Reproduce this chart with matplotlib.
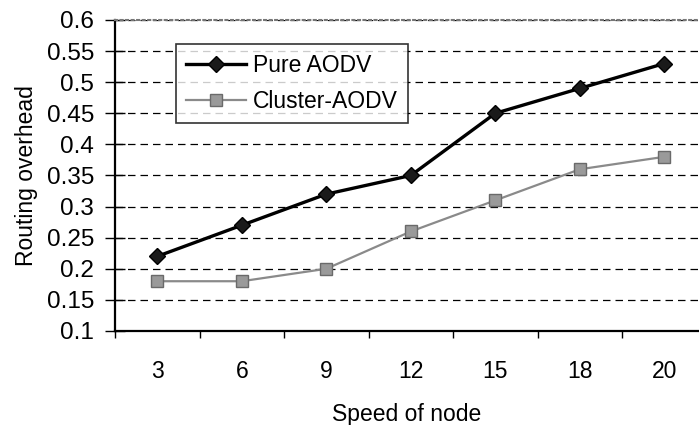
import matplotlib.pyplot as plt

plt.rcParams['font.family'] = ['Liberation Sans', 'DejaVu Sans']

# data
speeds = ['3', '6', '9', '12', '15', '18', '20']
pure_aodv = [0.22, 0.27, 0.32, 0.35, 0.45, 0.49, 0.53]
cluster_aodv = [0.18, 0.18, 0.20, 0.26, 0.31, 0.36, 0.38]
y_ticks = [0.1, 0.15, 0.2, 0.25, 0.3, 0.35, 0.4, 0.45, 0.5, 0.55, 0.6]

fig = plt.figure(figsize=(6.99, 4.25), dpi=100)
ax = fig.add_axes([0.1645, 0.2212, 0.8355, 0.7318])

xs = list(range(len(speeds)))
ax.plot(xs, pure_aodv, '-', color='black', lw=2.4, marker='D', ms=8,
        mfc='#1a1a1a', mec='black', label='Pure AODV', zorder=3)
ax.plot(xs, cluster_aodv, '-', color='#8a8a8a', lw=1.6, marker='s', ms=8.5,
        mfc='#9a9a9a', mec='#6a6a6a', label='Cluster-AODV', zorder=3)

ax.set_xlim(-0.5, 6.41)
ax.set_ylim(0.1, 0.6)
ax.set_yticks(y_ticks)
ax.set_yticklabels(['%g' % v for v in y_ticks])
ax.yaxis.grid(True, linestyle=(0, (6, 4)), color='black', lw=0.9)
ax.tick_params(axis='y', direction='inout', length=14, width=1,
               labelsize=17.5, pad=8)

# category labels centred, small ticks on the category boundaries
ax.set_xticks(xs)
ax.set_xticklabels(speeds)
ax.set_xticks([i - 0.5 for i in range(len(speeds))], minor=True)
ax.tick_params(axis='x', which='major', length=0, labelsize=16.5, pad=21)
ax.tick_params(axis='x', which='minor', direction='out', length=5, width=1)
ax.set_xlabel('Speed of node', fontsize=16.5, labelpad=14)
ax.set_ylabel('Routing overhead', fontsize=16.5, labelpad=6)

ax.spines['right'].set_visible(False)
ax.spines['top'].set_color('#777777')
ax.spines['top'].set_linestyle(':')
ax.spines['top'].set_linewidth(1.5)
ax.spines['left'].set_linewidth(1.6)
ax.spines['bottom'].set_linewidth(1.6)

leg = ax.legend(loc='upper left', bbox_to_anchor=(0.1045, 0.923), fontsize=16.5,
                frameon=True, fancybox=False, edgecolor='black',
                handlelength=2.6, borderpad=0.45, labelspacing=0.55,
                handletextpad=0.3, borderaxespad=0)
leg.get_frame().set_linewidth(1.2)

fig.savefig('out.png', dpi=100)
